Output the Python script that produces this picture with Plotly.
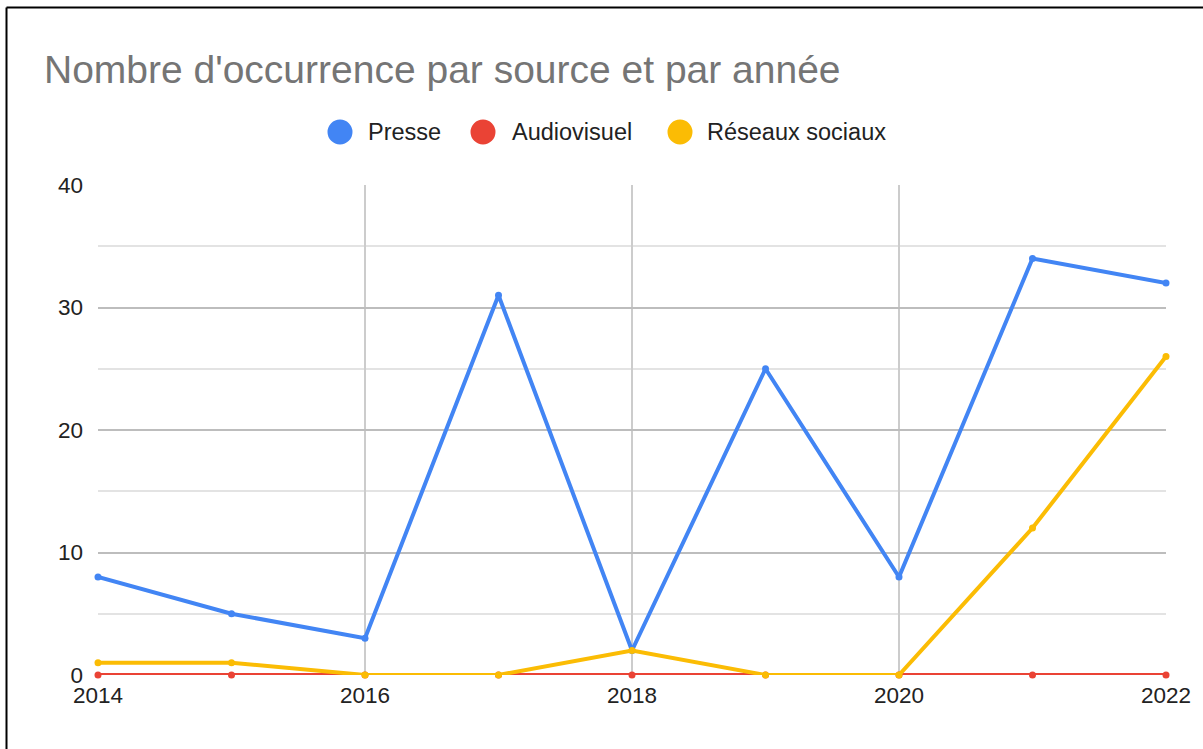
import plotly.graph_objects as go

years = [2014, 2015, 2016, 2017, 2018, 2019, 2020, 2021, 2022]
presse = [8, 5, 3, 31, 2, 25, 8, 34, 32]
audiovisuel = [0, 0, 0, 0, 0, 0, 0, 0, 0]
reseaux = [1, 1, 0, 0, 2, 0, 0, 12, 26]

names = ["Presse", "Audiovisuel", "Réseaux sociaux"]
colors = ["#4285F4", "#EA4335", "#FBBC04"]
series = [presse, audiovisuel, reseaux]

W, H = 1203, 749
ML, MR, MT, MB = 98, 37, 185, 74
PW, PH = W - ML - MR, H - MT - MB


def px_x(px):
    return (px - ML) / PW


def px_y(py):
    return (H - MB - py) / PH


fig = go.Figure()
for name, col, vals in zip(names, colors, series):
    fig.add_trace(go.Scatter(
        x=years, y=vals, mode="lines+markers", name=name,
        line=dict(color=col, width=4),
        marker=dict(color=col, size=7),
        showlegend=False, cliponaxis=False,
    ))

font = "Liberation Sans, Arial, sans-serif"

# outer frame
fig.add_shape(type="line", xref="paper", yref="paper",
              x0=px_x(6.5), x1=px_x(6.5), y0=px_y(760), y1=px_y(7.5),
              line=dict(color="#000000", width=2))
fig.add_shape(type="line", xref="paper", yref="paper",
              x0=px_x(6.5), x1=px_x(1220), y0=px_y(7.5), y1=px_y(7.5),
              line=dict(color="#000000", width=2))

# custom legend (large circles)
legend_circle_x = [340, 483, 680]
legend_text_x = [366, 510, 705]
legend_y = 132
R = 12.5
for name, col, cx, tx in zip(names, colors, legend_circle_x, legend_text_x):
    fig.add_shape(type="circle", xref="paper", yref="paper",
                  x0=px_x(cx - R), x1=px_x(cx + R),
                  y0=px_y(legend_y + R), y1=px_y(legend_y - R),
                  fillcolor=col, line=dict(width=0))
    fig.add_annotation(text=name, xref="paper", yref="paper",
                       x=px_x(tx), y=px_y(legend_y), xanchor="left", yanchor="middle",
                       showarrow=False,
                       font=dict(family=font, size=23.5, color="#222222"))

fig.update_layout(
    width=W, height=H,
    margin=dict(l=ML, r=MR, t=MT, b=MB),
    paper_bgcolor="white", plot_bgcolor="white",
    font=dict(family=font, color="#222222", size=22),
    showlegend=False,
    title=dict(text="Nombre d'occurrence par source et par année",
               xref="container", yref="container",
               x=44 / W, xanchor="left", y=1 - 69 / H, yanchor="middle",
               font=dict(family=font, size=39, color="#757575")),
    xaxis=dict(range=[2014, 2022], tickmode="array", tickvals=[2014, 2016, 2018, 2020, 2022],
               showgrid=True, gridcolor="#cccccc", gridwidth=1.5,
               zeroline=False, showline=False, ticks="", ticklabelstandoff=4,
               tickfont=dict(size=22.5, color="#222222")),
    yaxis=dict(range=[0, 40], tickmode="array", tickvals=[0, 10, 20, 30, 40],
               showgrid=True, gridcolor="#bdbdbd", gridwidth=1.5,
               zeroline=False, showline=False, ticks="", ticklabelstandoff=14,
               tickfont=dict(size=22.5, color="#222222")),
)
fig.update_yaxes(minor=dict(tickvals=[5, 15, 25, 35], showgrid=True,
                            gridcolor="#e3e3e3", gridwidth=1.5))

fig.add_shape(type="line", xref="paper", yref="y", x0=0, x1=1, y0=0, y1=0,
              line=dict(color="#333333", width=2), layer="below")

fig.write_html("out.html", config={"displayModeBar": False},
               post_script="document.body.style.margin='0';document.body.style.padding='0';")
